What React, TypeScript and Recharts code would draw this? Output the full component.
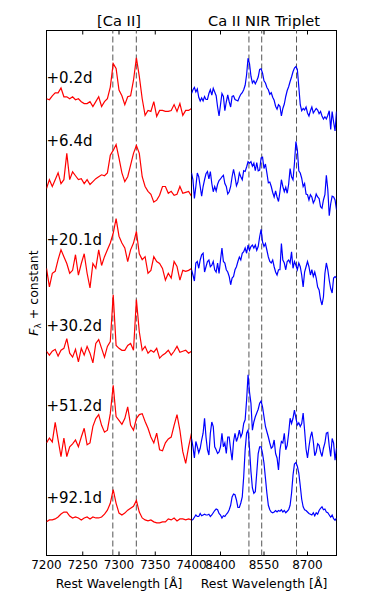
import React from 'react';
import { LineChart, Line, XAxis, YAxis, ReferenceLine, ReferenceArea, ReferenceDot } from 'recharts';

const FONT = '"DejaVu Sans", Verdana, sans-serif';
const W = 374;
const H = 598;
const TOP = 30.5;
const BOTTOM = 555.5;
const TICK = 4;

// wavelength grids (Angstrom)
const CA_WAVE = [
  7200, 7204, 7208, 7212, 7216, 7220, 7224, 7228, 7232, 7236,
  7240, 7244, 7248, 7252, 7256, 7260, 7264, 7268, 7272, 7276,
  7280, 7284, 7288, 7292, 7296, 7300, 7304, 7308, 7312, 7316,
  7320, 7324, 7328, 7332, 7336, 7340, 7344, 7348, 7352, 7356,
  7360, 7364, 7368, 7372, 7376, 7380, 7384, 7388, 7392, 7396,
  7400,
];
const NIR_WAVE = [
  8300, 8305, 8310, 8315, 8320, 8325, 8330, 8335, 8340, 8345,
  8350, 8355, 8360, 8365, 8370, 8375, 8380, 8385, 8390, 8395,
  8400, 8405, 8410, 8415, 8420, 8425, 8430, 8435, 8440, 8445,
  8450, 8455, 8460, 8465, 8470, 8475, 8480, 8485, 8490, 8495,
  8500, 8505, 8510, 8515, 8520, 8525, 8530, 8535, 8540, 8545,
  8550, 8555, 8560, 8565, 8570, 8575, 8580, 8585, 8590, 8595,
  8600, 8605, 8610, 8615, 8620, 8625, 8630, 8635, 8640, 8645,
  8650, 8655, 8660, 8665, 8670, 8675, 8680, 8685, 8690, 8695,
  8700, 8705, 8710, 8715, 8720, 8725, 8730, 8735, 8740, 8745,
  8750, 8755, 8760, 8765, 8770, 8775, 8780, 8785, 8790, 8795,
  8800,
];

const EPOCHS = ['+0.2d', '+6.4d', '+20.1d', '+30.2d', '+51.2d', '+92.1d'];
const EPOCH_LABEL_Y = [4.52, 3.87, 2.86, 1.97, 1.15, 0.21];

// [Ca II] spectra, flux (normalised) before the vertical offset
const CA_OFFSETS = [4.2, 3.3, 2.4, 1.6, 0.6, 0.0];
const CA_FLUX_D0 = [
  0.10, 0.09, 0.13, 0.16, 0.16, 0.21, 0.12, 0.12, 0.10, 0.12,
  0.09, 0.10, 0.07, 0.05, 0.05, 0.07, 0.02, 0.07, 0.12, 0.02,
  0.07, 0.10, 0.22, 0.46, 0.41, 0.19, 0.13, 0.04, 0.12, 0.13,
  0.29, 0.52, 0.33, 0.10, -0.07, -0.02, -0.03, 0.07, -0.08, -0.02,
  -0.02, -0.03, -0.03, -0.02, 0.04, -0.03, 0.05, -0.07, -0.02, -0.02,
  0.00,
];
const CA_FLUX_D6 = [
  0.08, 0.17, 0.10, 0.17, 0.24, 0.13, 0.17, 0.44, 0.17, 0.25,
  0.21, 0.17, 0.18, 0.13, 0.17, 0.12, 0.15, 0.18, 0.20, 0.22,
  0.21, 0.24, 0.42, 0.47, 0.53, 0.39, 0.24, 0.15, 0.20, 0.32,
  0.44, 0.52, 0.44, 0.20, 0.10, 0.05, 0.02, -0.06, -0.04, 0.01,
  0.10, 0.10, 0.03, 0.05, 0.01, 0.02, 0.10, 0.03, 0.04, 0.05,
  0.00,
];
const CA_FLUX_D20 = [
  0.16, -0.03, 0.11, 0.13, 0.25, 0.35, 0.28, 0.21, 0.11, 0.14,
  0.30, 0.09, 0.21, 0.31, 0.11, -0.04, 0.21, 0.16, 0.35, 0.19,
  0.28, 0.35, 0.42, 0.52, 0.67, 0.49, 0.42, 0.37, 0.23, 0.35,
  0.42, 0.54, 0.31, 0.25, 0.28, 0.11, 0.14, 0.28, 0.23, 0.21,
  0.16, 0.04, 0.11, 0.06, 0.23, 0.18, 0.04, 0.14, 0.13, 0.14,
  0.16,
];
const CA_FLUX_D30 = [
  0.11, 0.07, 0.11, 0.13, 0.06, 0.12, 0.14, 0.24, 0.09, 0.05,
  0.13, 0.00, 0.14, 0.07, 0.16, 0.09, -0.01, 0.19, 0.23, 0.14,
  0.05, 0.16, 0.21, 0.69, 0.17, 0.14, 0.12, 0.12, 0.17, 0.19,
  0.12, 0.64, 0.31, 0.12, 0.16, 0.09, 0.12, 0.10, 0.14, 0.04,
  0.07, 0.09, 0.12, 0.07, 0.11, 0.16, 0.10, 0.11, 0.12, 0.09,
  0.11,
];
const CA_FLUX_D51 = [
  0.17, 0.22, 0.18, 0.38, 0.20, 0.03, 0.22, 0.03, 0.13, 0.16,
  0.20, 0.13, 0.23, 0.32, 0.15, 0.17, 0.34, 0.42, 0.46, 0.35,
  0.28, 0.30, 0.47, 0.76, 0.44, 0.40, 0.36, 0.42, 0.54, 0.35,
  0.30, 0.42, 0.46, 0.47, 0.39, 0.32, 0.23, 0.17, 0.27, 0.10,
  0.09, 0.17, 0.21, 0.23, 0.35, 0.46, 0.30, 0.08, -0.04, 0.13,
  0.27,
];
const CA_FLUX_D92 = [
  -0.04, -0.02, -0.02, -0.01, 0.01, 0.04, 0.06, 0.06, 0.02, 0.00,
  0.01, 0.00, -0.02, 0.00, 0.01, -0.01, 0.01, 0.00, 0.00, 0.01,
  0.04, 0.08, 0.15, 0.29, 0.15, 0.05, 0.03, 0.05, 0.08, 0.10,
  0.12, 0.18, 0.06, 0.00, -0.02, -0.03, -0.02, -0.04, -0.05, -0.05,
  -0.04, -0.04, -0.01, -0.02, 0.00, -0.03, -0.01, -0.01, -0.02, -0.01,
  -0.02,
];

// Ca II NIR triplet spectra (no +30.2d spectrum here)
const NIR_OFFSETS = [5.2, 4.1, 2.9, null, 0.7, 0.0];
const NIR_FLUX_D0 = [
  0.56, 0.61, 0.64, 0.58, 0.62, 0.51, 0.46, 0.50, 0.46, 0.52,
  0.48, 0.48, 0.56, 0.61, 0.54, 0.63, 0.58, 0.53, 0.38, 0.26,
  0.41, 0.56, 0.52, 0.33, 0.45, 0.54, 0.45, 0.38, 0.52, 0.53,
  0.48, 0.47, 0.46, 0.51, 0.55, 0.57, 0.61, 0.67, 0.81, 1.03,
  0.96, 0.79, 0.70, 0.73, 0.69, 0.73, 0.78, 0.88, 0.89, 0.83,
  0.73, 0.70, 0.64, 0.61, 0.55, 0.57, 0.51, 0.47, 0.39, 0.35,
  0.41, 0.39, 0.26, 0.36, 0.42, 0.52, 0.60, 0.65, 0.72, 0.78,
  0.85, 0.90, 0.92, 0.88, 0.65, 0.41, 0.33, 0.36, 0.34, 0.38,
  0.30, 0.26, 0.33, 0.38, 0.30, 0.33, 0.36, 0.34, 0.29, 0.32,
  0.26, 0.22, 0.25, 0.22, 0.27, 0.33, 0.08, 0.32, 0.18, 0.06,
  0.32,
];
const NIR_FLUX_D6 = [
  0.60, 0.51, 0.26, 0.42, 0.60, 0.55, 0.42, 0.29, 0.42, 0.51,
  0.59, 0.62, 0.52, 0.62, 0.46, 0.35, 0.42, 0.36, 0.45, 0.50,
  0.52, 0.55, 0.57, 0.46, 0.42, 0.32, 0.35, 0.42, 0.55, 0.65,
  0.55, 0.43, 0.48, 0.60, 0.55, 0.51, 0.63, 0.62, 0.68, 0.75,
  0.73, 0.75, 0.69, 0.73, 0.63, 0.74, 0.63, 0.64, 0.80, 0.81,
  0.66, 0.72, 0.60, 0.47, 0.48, 0.42, 0.34, 0.28, 0.36, 0.28,
  0.22, 0.35, 0.51, 0.42, 0.35, 0.41, 0.33, 0.45, 0.66, 0.55,
  0.51, 0.73, 1.02, 0.91, 0.63, 0.60, 0.53, 0.42, 0.46, 0.32,
  0.31, 0.24, 0.31, 0.28, 0.20, 0.24, 0.32, 0.28, 0.26, 0.15,
  0.13, 0.24, 0.31, 0.57, 0.38, 0.03, 0.19, 0.29, 0.28, 0.24,
  0.11,
];
const NIR_FLUX_D20 = [
  0.51, 0.44, 0.36, 0.60, 0.62, 0.53, 0.64, 0.71, 0.73, 0.48,
  0.55, 0.62, 0.64, 0.55, 0.57, 0.62, 0.51, 0.48, 0.60, 0.46,
  0.64, 0.80, 0.62, 0.60, 0.51, 0.48, 0.42, 0.31, 0.40, 0.42,
  0.51, 0.55, 0.62, 0.68, 0.64, 0.73, 0.75, 0.80, 0.73, 0.84,
  0.77, 0.82, 0.84, 0.80, 0.84, 0.77, 0.82, 0.95, 1.05, 0.88,
  0.82, 0.86, 0.77, 0.68, 0.62, 0.60, 0.64, 0.55, 0.48, 0.44,
  0.51, 0.51, 0.86, 0.64, 0.60, 0.51, 0.62, 0.64, 0.60, 0.75,
  0.53, 0.62, 0.57, 0.51, 0.60, 0.55, 0.44, 0.28, 0.48, 0.55,
  0.62, 0.55, 0.44, 0.51, 0.42, 0.48, 0.40, 0.28, 0.24, 0.11,
  0.04, 0.15, 0.46, 0.60, 0.51, 0.37, 0.26, 0.20, 0.40, 0.42,
  0.40,
];
const NIR_FLUX_D51 = [
  0.46, 0.35, 0.20, 0.42, 0.35, 0.27, 0.33, 0.44, 0.53, 0.73,
  0.48, 0.31, 0.24, 0.53, 0.68, 0.62, 0.35, 0.31, 0.26, 0.28,
  0.35, 0.53, 0.35, 0.40, 0.26, 0.48, 0.48, 0.31, 0.17, 0.42,
  0.53, 0.42, 0.48, 0.57, 0.48, 0.53, 0.66, 0.71, 0.97, 1.31,
  1.08, 0.93, 0.57, 0.68, 0.75, 0.80, 0.85, 0.93, 0.96, 0.88,
  0.75, 0.62, 0.55, 0.48, 0.40, 0.33, 0.35, 0.44, 0.26, 0.20,
  0.04, 0.31, 0.42, 0.40, 0.53, 0.31, 0.37, 0.53, 0.73, 0.66,
  0.73, 0.84, 0.73, 0.64, 0.67, 0.62, 0.66, 0.80, 0.57, 0.32,
  0.20, 0.35, 0.48, 0.55, 0.42, 0.23, 0.28, 0.39, 0.37, 0.28,
  0.22, 0.33, 0.40, 0.53, 0.54, 0.36, 0.22, 0.46, 0.40, 0.17,
  0.33,
];
const NIR_FLUX_D92 = [
  0.07, 0.08, 0.11, 0.14, 0.12, 0.12, 0.16, 0.13, 0.14, 0.15,
  0.14, 0.14, 0.15, 0.12, 0.14, 0.17, 0.20, 0.22, 0.21, 0.16,
  0.14, 0.10, 0.13, 0.12, 0.15, 0.17, 0.21, 0.27, 0.38, 0.42,
  0.41, 0.34, 0.24, 0.24, 0.30, 0.38, 0.65, 1.01, 1.23, 1.27,
  1.03, 0.72, 0.50, 0.43, 0.45, 0.70, 0.96, 1.05, 1.05, 0.96,
  0.83, 0.63, 0.43, 0.27, 0.21, 0.18, 0.17, 0.18, 0.20, 0.18,
  0.20, 0.19, 0.21, 0.18, 0.20, 0.17, 0.19, 0.21, 0.27, 0.43,
  0.67, 0.82, 0.84, 0.79, 0.70, 0.53, 0.35, 0.25, 0.21, 0.20,
  0.18, 0.16, 0.15, 0.14, 0.17, 0.13, 0.17, 0.15, 0.20, 0.23,
  0.25, 0.21, 0.22, 0.18, 0.17, 0.14, 0.11, 0.14, 0.09, 0.07,
  0.10,
];

const CA_REST_LINES = [7291.47, 7323.88];
const NIR_REST_LINES = [8498.02, 8542.09, 8662.14];
const CA_X_TICKS = [7200, 7250, 7300, 7350, 7400];
const NIR_X_TICKS = [8400, 8550, 8700];
const CA_Y_TICKS = [0, 1, 2, 3, 4, 5];
const NIR_Y_TICKS = [0, 1, 2, 3, 4, 5, 6];

type PanelProps = {
  wave: number[];
  fluxes: (number[] | null)[];
  offsets: (number | null)[];
  color: string;
  xDomain: [number, number];
  xTicks: number[];
  yDomain: [number, number];
  yTicks: number[];
  restLines: number[];
  title: string;
  plotLeft: number;
  plotRight: number;
  showEpochs: boolean;
  showYLabel: boolean;
};

function SpectrumPanel(p: PanelProps) {
  const rows = p.wave.map((w, i) => {
    const row: Record<string, number> = { w };
    p.fluxes.forEach((f, k) => {
      if (f) row[`s${k}`] = f[i] + (p.offsets[k] ?? 0);
    });
    return row;
  });

  const xTick = (props: any) => {
    const { x, payload } = props;
    return (
      <g>
        <line x1={x} x2={x} y1={BOTTOM} y2={BOTTOM - TICK} stroke="#000" />
        <line x1={x} x2={x} y1={TOP} y2={TOP + TICK} stroke="#000" />
        <text x={x} y={569.3} textAnchor="middle" fontSize={12} fontFamily={FONT} fill="#000">
          {payload.value}
        </text>
      </g>
    );
  };

  const yTick = (props: any) => {
    const { y } = props;
    return (
      <g>
        <line x1={p.plotLeft} x2={p.plotLeft + TICK} y1={y} y2={y} stroke="#000" />
        <line x1={p.plotRight} x2={p.plotRight - TICK} y1={y} y2={y} stroke="#000" />
      </g>
    );
  };

  const frame = (s: any) => {
    const { x, y, width, height } = s;
    const cy = y + height / 2;
    const lx = x - 9;
    return (
      <g>
        <rect x={x} y={y} width={width} height={height} fill="none" stroke="#000" strokeWidth={1} />
        <text x={x + width / 2} y={y - 4.5} textAnchor="middle" fontSize={14.6} fontFamily={FONT} fill="#000">
          {p.title}
        </text>
        <text x={x + width / 2} y={588.3} textAnchor="middle" fontSize={12.4} fontFamily={FONT} fill="#000">
          Rest Wavelength [Å]
        </text>
        {p.showYLabel && (
          <text
            x={lx}
            y={cy}
            transform={`rotate(-90, ${lx}, ${cy})`}
            textAnchor="middle"
            fontSize={12.5}
            fontFamily={FONT}
            fill="#000"
          >
            <tspan fontStyle="italic">F</tspan>
            <tspan fontSize={9} dy={3}>λ</tspan>
            <tspan dy={-3}> + constant</tspan>
          </text>
        )}
      </g>
    );
  };

  return (
    <LineChart
      width={W}
      height={H}
      data={rows}
      margin={{ top: TOP, right: W - p.plotRight, bottom: 0, left: p.plotLeft }}
    >
      <XAxis
        dataKey="w"
        type="number"
        domain={p.xDomain}
        ticks={p.xTicks}
        interval={0}
        allowDataOverflow
        tickLine={false}
        axisLine={false}
        height={H - BOTTOM}
        tick={xTick}
      />
      <YAxis
        type="number"
        domain={p.yDomain}
        ticks={p.yTicks}
        interval={0}
        allowDataOverflow
        width={0}
        tickLine={false}
        axisLine={false}
        tick={yTick}
      />
      {p.restLines.map((l) => (
        <ReferenceLine key={l} x={l} stroke="#555" strokeWidth={1} strokeDasharray="6 3" ifOverflow="visible" />
      ))}
      {p.fluxes.map((f, k) =>
        f ? (
          <Line
            key={k}
            dataKey={`s${k}`}
            type="linear"
            stroke={p.color}
            strokeWidth={1.2}
            dot={false}
            activeDot={false}
            isAnimationActive={false}
          />
        ) : null
      )}
      {p.showEpochs &&
        EPOCHS.map((e, k) => (
          <ReferenceDot
            key={e}
            x={p.xDomain[0]}
            y={EPOCH_LABEL_Y[k]}
            r={0}
            ifOverflow="visible"
            shape={(s: any) => (
              <text x={s.cx} y={s.cy} dy="0.36em" fontSize={15} fontFamily={FONT} fill="#000">
                {e}
              </text>
            )}
          />
        ))}
      <ReferenceArea
        x1={p.xDomain[0]}
        x2={p.xDomain[1]}
        y1={p.yDomain[0]}
        y2={p.yDomain[1]}
        ifOverflow="visible"
        shape={frame}
      />
    </LineChart>
  );
}

export default function App() {
  return (
    <div style={{ position: 'absolute', left: 0, top: 0, width: W, height: H, background: '#fff' }}>
      <div style={{ position: 'absolute', left: 0, top: 0 }}>
        <SpectrumPanel
          wave={CA_WAVE}
          fluxes={[CA_FLUX_D0, CA_FLUX_D6, CA_FLUX_D20, CA_FLUX_D30, CA_FLUX_D51, CA_FLUX_D92]}
          offsets={CA_OFFSETS}
          color="#ff0000"
          xDomain={[7200, 7400]}
          xTicks={CA_X_TICKS}
          yDomain={[-0.385, 5]}
          yTicks={CA_Y_TICKS}
          restLines={CA_REST_LINES}
          title="[Ca II]"
          plotLeft={46.5}
          plotRight={191.5}
          showEpochs
          showYLabel
        />
      </div>
      <div style={{ position: 'absolute', left: 0, top: 0 }}>
        <SpectrumPanel
          wave={NIR_WAVE}
          fluxes={[NIR_FLUX_D0, NIR_FLUX_D6, NIR_FLUX_D20, null, NIR_FLUX_D51, NIR_FLUX_D92]}
          offsets={NIR_OFFSETS}
          color="#0000ff"
          xDomain={[8300, 8800]}
          xTicks={NIR_X_TICKS}
          yDomain={[-0.4, 6.6]}
          yTicks={NIR_Y_TICKS}
          restLines={NIR_REST_LINES}
          title="Ca II NIR Triplet"
          plotLeft={191.5}
          plotRight={336.5}
          showEpochs={false}
          showYLabel={false}
        />
      </div>
    </div>
  );
}
